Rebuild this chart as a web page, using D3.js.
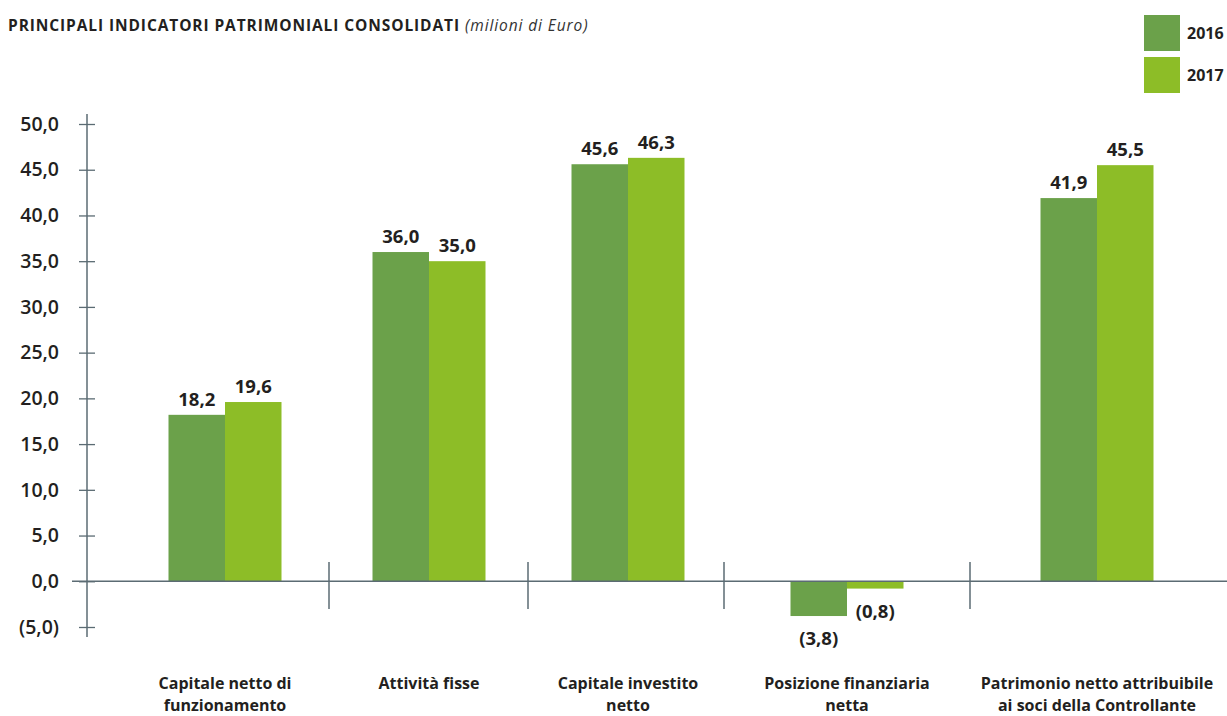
<!DOCTYPE html>
<html>
<head>
<meta charset="utf-8">
<script src="https://cdn.jsdelivr.net/npm/d3@7"></script>
<style>
  html, body { margin: 0; padding: 0; background: #fff; }
  svg { display: block; }
</style>
</head>
<body>
<svg id="chart" width="1227" height="716"></svg>
<script>
// Principali indicatori patrimoniali consolidati (milioni di Euro)
const categories = [
  ["Capitale netto di", "funzionamento"],
  ["Attività fisse"],
  ["Capitale investito", "netto"],
  ["Posizione finanziaria", "netta"],
  ["Patrimonio netto attribuibile", "ai soci della Controllante"]
];
const years = ["2016", "2017"];
const values2016 = [18.2, 36.0, 45.6, -3.8, 41.9];
const values2017 = [19.6, 35.0, 46.3, -0.8, 45.5];
const yTicks = [-5, 0, 5, 10, 15, 20, 25, 30, 35, 40, 45, 50];

const colors = { "2016": "#6ba14a", "2017": "#8dbd27" };
const axisColor = "#5b6b73";
const textColor = "#231f20";
const font = "'Open Sans', sans-serif";

const svg = d3.select("#chart");

// Group centres and separators along the category axis (half steps are separators)
const x = d3.scaleLinear()
  .domain([0, 0.5, 1, 1.5, 2, 2.5, 3, 3.5, 4])
  .range([225, 329, 429, 528, 628, 724, 847, 970, 1097]);
const barW = 56.5;

const y = d3.scaleLinear().domain([-5, 50]).range([627, 124]);

const fmt = v => {
  const s = d3.format(".1f")(Math.abs(v)).replace(".", ",");
  return v < 0 ? "(" + s + ")" : s;
};

// Title
const title = svg.append("text")
  .attr("x", 8).attr("y", 31)
  .attr("font-family", font).attr("font-size", 15.5).attr("letter-spacing", 0.9)
  .attr("fill", textColor);
title.append("tspan").attr("font-weight", 700).text("PRINCIPALI INDICATORI PATRIMONIALI CONSOLIDATI ");
title.append("tspan").attr("font-style", "italic").attr("font-weight", 400).attr("fill", "#333").text("(milioni di Euro)");

// Legend
const legend = svg.append("g");
years.forEach((yr, i) => {
  const g = legend.append("g").attr("transform", `translate(1144,${15 + i * 42})`);
  g.append("rect").attr("width", 36).attr("height", 36).attr("fill", colors[yr]);
  g.append("text").attr("x", 43).attr("y", 24)
    .attr("font-family", font).attr("font-weight", 700).attr("font-size", 16)
    .attr("fill", textColor).text(yr);
});

// Y axis
const yAxis = d3.axisLeft(y).tickValues(yTicks).tickSize(8).tickPadding(20).tickFormat(fmt);
const ag = svg.append("g").attr("transform", "translate(87,0)").call(yAxis);
ag.select(".domain").remove();
ag.selectAll(".tick line").attr("x1", -8).attr("x2", 8).attr("stroke", axisColor).attr("stroke-width", 1.3);
ag.selectAll(".tick text")
  .attr("font-family", font).attr("font-weight", 600).attr("font-size", 19.5)
  .attr("fill", textColor);
ag.append("line").attr("x1", 0).attr("x2", 0).attr("y1", 114).attr("y2", 637)
  .attr("stroke", axisColor).attr("stroke-width", 1.5);

// Bars
const rows = categories.map((c, i) => ({ i, v: [values2016[i], values2017[i]] }));
const bars = svg.append("g");
rows.forEach(r => {
  years.forEach((yr, k) => {
    const v = r.v[k];
    const x0 = x(r.i) - barW + k * barW;
    bars.append("rect")
      .attr("x", x0).attr("width", barW)
      .attr("y", Math.min(y(v), y(0)))
      .attr("height", Math.abs(y(v) - y(0)))
      .attr("fill", colors[yr]);
    bars.append("text")
      .attr("x", x0 + barW / 2)
      .attr("y", v >= 0 ? y(v) - 9 : y(v) + 29)
      .attr("text-anchor", "middle")
      .attr("font-family", font).attr("font-weight", 700).attr("font-size", 18.5)
      .attr("fill", textColor).text(fmt(v));
  });
});

// Zero baseline and category separators
svg.append("line").attr("x1", 72).attr("x2", 1227).attr("y1", y(0)).attr("y2", y(0))
  .attr("stroke", axisColor).attr("stroke-width", 1.5);
[0.5, 1.5, 2.5, 3.5].forEach(s => {
  svg.append("line").attr("x1", x(s)).attr("x2", x(s)).attr("y1", 562).attr("y2", 609)
    .attr("stroke", axisColor).attr("stroke-width", 1.5);
});

// Category labels
categories.forEach((lines, i) => {
  const t = svg.append("text").attr("text-anchor", "middle")
    .attr("font-family", font).attr("font-weight", 700).attr("font-size", 16)
    .attr("fill", textColor);
  lines.forEach((ln, j) => {
    t.append("tspan").attr("x", x(i)).attr("y", 689 + j * 22).text(ln);
  });
});
</script>
</body>
</html>
